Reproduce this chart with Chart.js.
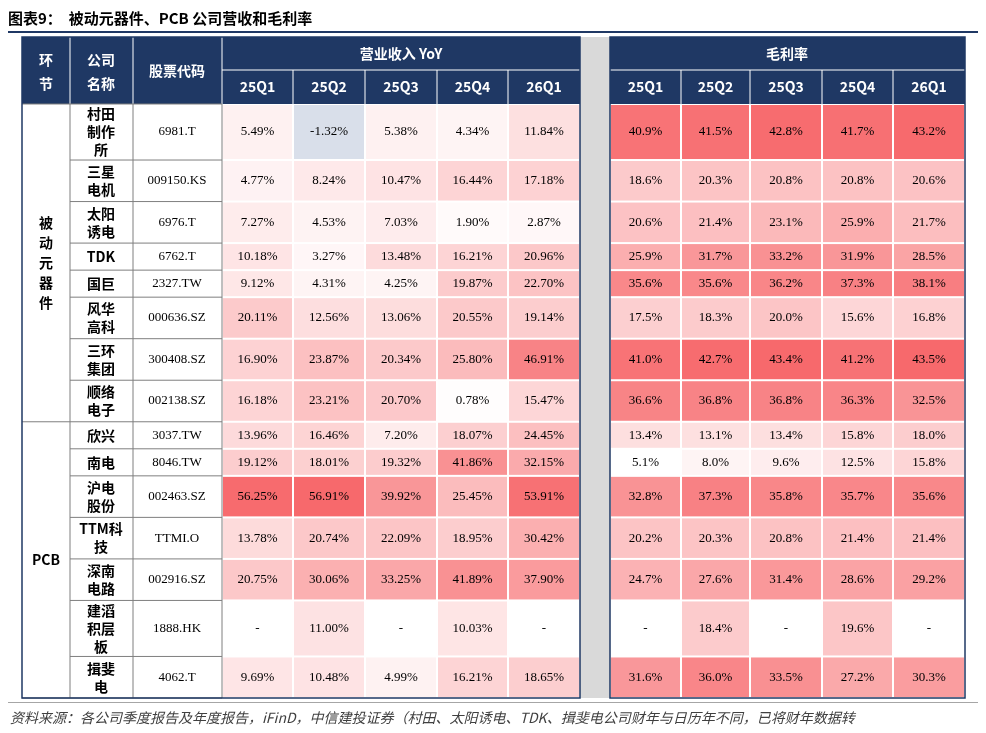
<!DOCTYPE html>
<html><head><meta charset="utf-8">
<script src="https://cdn.jsdelivr.net/npm/chart.js@4.4.0/dist/chart.umd.min.js"></script>
<style>body{margin:0;background:#fff}canvas{display:block}</style>
</head><body>
<canvas id="tbl" width="986" height="733"></canvas>
<script>
// table data
const segments = [{ name: '被动元器件', rows: 8 }, { name: 'PCB', rows: 7 }];
const companies = ['村田|制作|所', '三星|电机', '太阳|诱电', 'TDK', '国巨', '风华|高科', '三环|集团', '顺络|电子',
  '欣兴', '南电', '沪电|股份', 'TTM科|技', '深南|电路', '建滔|积层|板', '揖斐|电'];
const codes = ['6981.T', '009150.KS', '6976.T', '6762.T', '2327.TW', '000636.SZ', '300408.SZ', '002138.SZ',
  '3037.TW', '8046.TW', '002463.SZ', 'TTMI.O', '002916.SZ', '1888.HK', '4062.T'];
const quarters = ['25Q1', '25Q2', '25Q3', '25Q4', '26Q1'];
const revenueYoY = [
  [5.49, -1.32, 5.38, 4.34, 11.84],
  [4.77, 8.24, 10.47, 16.44, 17.18],
  [7.27, 4.53, 7.03, 1.90, 2.87],
  [10.18, 3.27, 13.48, 16.21, 20.96],
  [9.12, 4.31, 4.25, 19.87, 22.70],
  [20.11, 12.56, 13.06, 20.55, 19.14],
  [16.90, 23.87, 20.34, 25.80, 46.91],
  [16.18, 23.21, 20.70, 0.78, 15.47],
  [13.96, 16.46, 7.20, 18.07, 24.45],
  [19.12, 18.01, 19.32, 41.86, 32.15],
  [56.25, 56.91, 39.92, 25.45, 53.91],
  [13.78, 20.74, 22.09, 18.95, 30.42],
  [20.75, 30.06, 33.25, 41.89, 37.90],
  [null, 11.00, null, 10.03, null],
  [9.69, 10.48, 4.99, 16.21, 18.65]
];
const grossMargin = [
  [40.9, 41.5, 42.8, 41.7, 43.2],
  [18.6, 20.3, 20.8, 20.8, 20.6],
  [20.6, 21.4, 23.1, 25.9, 21.7],
  [25.9, 31.7, 33.2, 31.9, 28.5],
  [35.6, 35.6, 36.2, 37.3, 38.1],
  [17.5, 18.3, 20.0, 15.6, 16.8],
  [41.0, 42.7, 43.4, 41.2, 43.5],
  [36.6, 36.8, 36.8, 36.3, 32.5],
  [13.4, 13.1, 13.4, 15.8, 18.0],
  [5.1, 8.0, 9.6, 12.5, 15.8],
  [32.8, 37.3, 35.8, 35.7, 35.6],
  [20.2, 20.3, 20.8, 21.4, 21.4],
  [24.7, 27.6, 31.4, 28.6, 29.2],
  [null, 18.4, null, 19.6, null],
  [31.6, 36.0, 33.5, 27.2, 30.3]
];

// layout (page units)
const leftCols = [22, 70, 133, 222, 293, 365, 437, 508, 580];
const rightCols = [610, 681, 750, 822, 893, 965];
const TOP = 37, HEAD1 = 70, HEAD2 = 104, BOTTOM = 698;
const NAVY = '#1f3864';
const CJK = '"Noto Sans CJK SC", sans-serif';

// row heights follow the number of text lines in the company name
const lineCounts = companies.map(c => c.split('|').length);
const rawH = lineCounts.map(n => 13 + 15 * n);
const sumH = rawH.reduce((a, b) => a + b, 0);
const rowEdges = [HEAD2];
rawH.forEach(h => rowEdges.push(rowEdges[rowEdges.length - 1] + h * (BOTTOM - HEAD2) / sumH));

function heat(v, max, min) {
  if (v === null) return '#ffffff';
  if (v < 0) return '#d9dfea';
  const t = Math.max(0, Math.min(1, (v - min) / (max - min)));
  const r = Math.round(255 + (247 - 255) * t);
  const g = Math.round(255 + (105 - 255) * t);
  const b = Math.round(255 + (108 - 255) * t);
  return `rgb(${r},${g},${b})`;
}

const tablePlugin = {
  id: 'tablePlugin',
  afterDraw(chart) {
    const ctx = chart.ctx;
    const X = v => chart.scales.x.getPixelForValue(v);
    const Y = v => chart.scales.y.getPixelForValue(v);
    const rect = (x0, y0, x1, y1, fill) => {
      ctx.fillStyle = fill;
      ctx.fillRect(X(x0), Y(y0), X(x1) - X(x0), Y(y1) - Y(y0));
    };
    const text = (s, x, y, font, color) => {
      ctx.font = font; ctx.fillStyle = color;
      ctx.textAlign = 'center'; ctx.textBaseline = 'middle';
      ctx.fillText(s, X(x), Y(y));
    };
    ctx.save();

    // title
    ctx.font = 'bold 15px ' + CJK; ctx.fillStyle = '#000'; ctx.textAlign = 'left'; ctx.textBaseline = 'middle';
    ctx.fillText('图表9：  被动元器件、PCB 公司营收和毛利率', X(8), Y(18));
    rect(8, 31, 978, 33, NAVY);

    // gap band
    rect(580, TOP, 610, BOTTOM, '#d9d9d9');

    // headers
    rect(leftCols[0], TOP, leftCols[8], HEAD2, NAVY);
    rect(rightCols[0], TOP, rightCols[5], HEAD2, NAVY);
    ctx.strokeStyle = '#ffffff'; ctx.lineWidth = 1;
    const hb = 'bold 14px ' + CJK;
    text('环', 46, 60, hb, '#fff'); text('节', 46, 84, hb, '#fff');
    text('公司', 101, 60, hb, '#fff'); text('名称', 101, 84, hb, '#fff');
    text('股票代码', 177, 71, hb, '#fff');
    text('营业收入 YoY', 401, 54, hb, '#fff');
    text('毛利率', 787, 54, hb, '#fff');
    ctx.beginPath();
    [70, 133, 222].forEach(x => { ctx.moveTo(X(x), Y(TOP)); ctx.lineTo(X(x), Y(HEAD2)); });
    ctx.moveTo(X(222), Y(HEAD1)); ctx.lineTo(X(580), Y(HEAD1));
    ctx.moveTo(X(610), Y(HEAD1)); ctx.lineTo(X(965), Y(HEAD1));
    leftCols.slice(4, 8).forEach(x => { ctx.moveTo(X(x), Y(HEAD1)); ctx.lineTo(X(x), Y(HEAD2)); });
    rightCols.slice(1, 5).forEach(x => { ctx.moveTo(X(x), Y(HEAD1)); ctx.lineTo(X(x), Y(HEAD2)); });
    ctx.stroke();
    quarters.forEach((q, j) => {
      text(q, (leftCols[j + 3] + leftCols[j + 4]) / 2, 87, hb, '#fff');
      text(q, (rightCols[j] + rightCols[j + 1]) / 2, 87, hb, '#fff');
    });

    // body text columns
    rect(leftCols[0], HEAD2, leftCols[3], BOTTOM, '#fff');
    const numFont = '13px "Liberation Serif", serif';
    companies.forEach((c, i) => {
      const y0 = rowEdges[i], y1 = rowEdges[i + 1], yc = (y0 + y1) / 2;
      const lines = c.split('|');
      lines.forEach((ln, k) => text(ln, 101, yc + (k - (lines.length - 1) / 2) * 18, 'bold 14px ' + CJK, '#000'));
      text(codes[i], 177, yc, numFont, '#000');
      for (let j = 0; j < 5; j++) {
        const v = revenueYoY[i][j];
        const x0 = leftCols[j + 3], x1 = leftCols[j + 4];
        rect(x0 + 1, y0 + 1, x1 - 1, y1 - 1, heat(v, 56.91, 0));
        text(v === null ? '-' : v.toFixed(2) + '%', (x0 + x1) / 2, yc, numFont, '#000');
        const g = grossMargin[i][j];
        const r0 = rightCols[j], r1 = rightCols[j + 1];
        rect(r0 + 1, y0 + 1, r1 - 1, y1 - 1, heat(g, 43.5, 5.1));
        text(g === null ? '-' : g.toFixed(1) + '%', (r0 + r1) / 2, yc, numFont, '#000');
      }
    });
    // segments
    let r = 0;
    segments.forEach(s => {
      const y0 = rowEdges[r], y1 = rowEdges[r + s.rows], yc = (y0 + y1) / 2;
      if (s.name.length > 3) {
        [...s.name].forEach((ch, k) => text(ch, 46, yc + (k - (s.name.length - 1) / 2) * 20, 'bold 14px ' + CJK, '#000'));
      } else {
        text(s.name, 46, yc, 'bold 14px ' + CJK, '#000');
      }
      r += s.rows;
    });
    // grid lines in text columns
    ctx.strokeStyle = '#7f7f7f'; ctx.lineWidth = 1;
    ctx.beginPath();
    rowEdges.forEach((y, i) => {
      const start = (i === 8 || i === 0 || i === 15) ? 22 : 70;
      ctx.moveTo(X(start), Y(y)); ctx.lineTo(X(222), Y(y));
    });
    [70, 133, 222].forEach(x => { ctx.moveTo(X(x), Y(HEAD2)); ctx.lineTo(X(x), Y(BOTTOM)); });
    ctx.stroke();
    // outer borders
    ctx.strokeStyle = NAVY; ctx.lineWidth = 1.5;
    ctx.strokeRect(X(22), Y(TOP), X(580) - X(22), Y(BOTTOM) - Y(TOP));
    ctx.strokeRect(X(610), Y(TOP), X(965) - X(610), Y(BOTTOM) - Y(TOP));

    // footer
    rect(8, 702, 978, 703, '#a6a6a6');
    ctx.font = 'italic 14px ' + CJK; ctx.fillStyle = '#404040'; ctx.textAlign = 'left'; ctx.textBaseline = 'middle';
    ctx.fillText('资料来源：各公司季度报告及年度报告，iFinD，中信建投证券（村田、太阳诱电、TDK、揖斐电公司财年与日历年不同，已将财年数据转', X(10), Y(718));
    ctx.restore();
  }
};

new Chart(document.getElementById('tbl'), {
  type: 'scatter',
  data: { datasets: [{ data: [], pointRadius: 0 }] },
  options: {
    responsive: false,
    animation: false,
    layout: { padding: 0 },
    plugins: { legend: { display: false }, tooltip: { enabled: false } },
    scales: {
      x: { type: 'linear', min: 0, max: 986, display: false },
      y: { type: 'linear', min: 0, max: 733, reverse: true, display: false }
    }
  },
  plugins: [tablePlugin]
});
</script>
</body></html>
